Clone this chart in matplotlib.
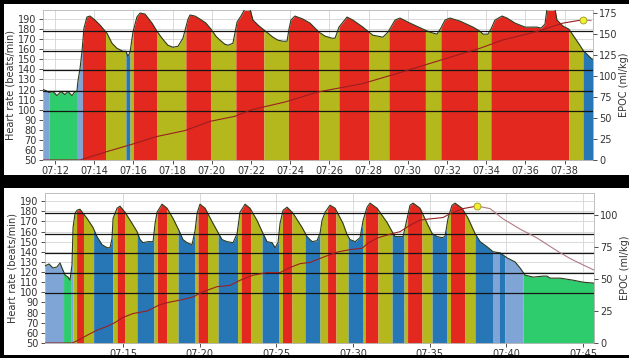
import numpy as np
import matplotlib
matplotlib.use("Agg")
import matplotlib.pyplot as plt
from matplotlib.patches import Rectangle

# ---------------- data (times in minutes after 07:00) ----------------
top_t = [11.39, 11.54, 11.69, 11.90, 12.10, 12.31, 12.51, 12.66, 12.87, 13.02, 13.12, 13.17, 13.28,
         13.38, 13.48, 13.63, 13.79, 14.04, 14.30, 14.65, 14.91, 15.16, 15.47, 15.62, 15.72, 15.83,
         15.98, 16.18, 16.34, 16.59, 16.95, 17.20, 17.46, 17.76, 18.02, 18.28, 18.53, 18.68, 18.79,
         18.89, 19.14, 19.40, 19.70, 19.96, 20.21, 20.42, 20.67, 20.83, 21.08, 21.18, 21.29, 21.49,
         21.69, 21.95, 22.10, 22.36, 22.61, 22.87, 23.12, 23.38, 23.63, 23.84, 23.94, 24.04, 24.24,
         24.65, 25.01, 25.47, 25.78, 26.13, 26.29, 26.49, 26.90, 27.20, 27.71, 28.02, 28.22, 28.73,
         28.99, 29.35, 29.60, 30.11, 30.78, 31.13, 31.49, 31.69, 31.90, 32.15, 32.66, 33.33, 33.68,
         33.84, 34.09, 34.24, 34.45, 34.81, 35.06, 35.47, 35.98, 36.59, 36.80, 37.00, 37.10, 37.51,
         37.61, 37.92, 38.22, 38.43, 38.78, 38.94, 39.35, 39.45]
top_hr = [120, 119, 117, 118, 114, 118, 115, 118, 114, 118, 118, 128, 141,
          158, 181, 192, 193, 189, 184, 176, 166, 161, 158, 158, 153, 157,
          177, 192, 196, 195, 186, 178, 171, 164, 162, 163, 171, 182, 190,
          194, 193, 190, 186, 180, 173, 169, 165, 164, 166, 176, 187, 193,
          200, 200, 189, 184, 180, 176, 172, 169, 168, 168, 180, 189, 193,
          190, 186, 177, 173, 171, 171, 182, 192, 189, 182, 177, 174, 172,
          177, 189, 191, 186, 180, 177, 175, 181, 189, 191, 188, 182, 178,
          175, 175, 180, 189, 193, 191, 186, 182, 182, 181, 185, 200, 200,
          189, 183, 180, 174, 164, 159, 151, 150]
top_bounds = [11.39, 11.69, 13.10, 13.40, 14.58, 15.62, 15.83, 16.00, 17.18, 18.68, 19.96, 21.23,
              22.66, 23.91, 25.47, 26.49, 28.02, 29.04, 30.90, 31.69, 33.56, 34.24, 38.22, 38.94, 39.45]
top_zones = ["lb", "g", "lb", "r", "y", "b", "y", "r", "y", "r", "y", "r",
             "y", "r", "y", "r", "y", "r", "y", "r", "y", "r", "y", "b"]
top_epoc_t = [11.39, 13.28, 14.65, 15.83, 17.20, 18.63, 19.91, 21.18, 22.05, 23.73, 25.42, 27.71,
              29.45, 31.13, 32.82, 33.68, 34.86, 36.59, 37.92, 38.94, 39.35]
top_epoc = [0, 0, 10, 18, 28, 35, 46, 52, 60, 69, 81, 91, 103, 115, 127, 133, 143, 153, 163, 167, 166]
top_ticks = [12, 14, 16, 18, 20, 22, 24, 26, 28, 30, 32, 34, 36, 38]
top_labels = ["07:12", "07:14", "07:16", "07:18", "07:20", "07:22", "07:24", "07:26", "07:28",
              "07:30", "07:32", "07:34", "07:36", "07:38"]
top_epoc_ticks = [0, 25, 50, 75, 100, 125, 150, 175]

bot_t = [9.91, 10.17, 10.43, 10.69, 10.89, 11.02, 11.22, 11.41, 11.54, 11.67, 11.74, 11.87, 12.00,
         12.19, 12.39, 12.65, 13.04, 13.30, 13.63, 13.96, 14.15, 14.28, 14.35, 14.61, 14.80, 15.13,
         15.59, 15.91, 16.11, 16.30, 16.63, 16.96, 17.09, 17.22, 17.54, 17.87, 18.26, 18.65, 18.91,
         19.17, 19.50, 19.70, 19.83, 20.02, 20.35, 20.87, 21.20, 21.46, 21.78, 22.18, 22.44, 22.63,
         22.96, 23.28, 23.74, 24.07, 24.39, 24.72, 24.92, 25.11, 25.24, 25.44, 25.70, 26.09, 26.68,
         27.00, 27.33, 27.65, 27.85, 27.98, 28.18, 28.50, 28.83, 29.35, 29.61, 29.81, 30.14, 30.46,
         30.66, 30.92, 31.11, 31.57, 32.22, 32.55, 32.74, 33.27, 33.53, 33.72, 33.92, 34.37, 34.90,
         35.16, 35.48, 35.81, 36.00, 36.20, 36.46, 36.66, 37.11, 37.51, 37.96, 38.29, 38.74, 39.14,
         39.59, 40.05, 40.57, 40.90, 41.22, 41.75, 42.40, 42.66, 42.85, 43.51, 44.35, 45.01, 45.72]
bot_hr = [126, 128, 124, 125, 129, 124, 117, 115, 112, 127, 164, 178, 181,
          182, 178, 173, 164, 155, 147, 144, 144, 153, 173, 183, 185, 179,
          168, 160, 152, 149, 150, 150, 168, 179, 187, 183, 173, 161, 152,
          149, 147, 161, 178, 187, 183, 168, 159, 152, 150, 149, 158, 179,
          187, 183, 171, 160, 150, 149, 144, 149, 168, 181, 184, 178, 164,
          155, 150, 151, 158, 171, 179, 186, 183, 168, 157, 152, 150, 154,
          171, 184, 188, 183, 169, 160, 155, 155, 173, 186, 188, 183, 166,
          158, 155, 154, 155, 173, 186, 188, 183, 173, 158, 150, 145, 140,
          139, 134, 130, 124, 117, 115, 116, 116, 114, 114, 112, 110, 109]
bot_bounds = [9.91, 11.12, 11.58, 11.74, 11.97, 12.42, 13.08, 14.32, 14.61, 15.13, 15.91, 17.02,
              17.25, 17.84, 18.59, 19.70, 19.89, 20.51, 21.20, 22.47, 22.70, 23.32, 24.07, 25.18,
              25.40, 26.02, 26.87, 27.85, 28.34, 28.89, 29.68, 30.66, 30.79, 31.63, 32.55, 33.33,
              33.56, 34.50, 35.16, 36.10, 36.36, 37.28, 37.96, 39.14, 39.53, 39.89, 41.09, 45.72]
bot_zones = ["lb", "g", "lb", "y", "r", "y", "b", "y", "r", "y", "b",
             "y", "r", "y", "b", "y", "r", "y", "b", "y", "r", "y", "b",
             "y", "r", "y", "b", "y", "r", "y", "b", "y", "r", "y", "b",
             "y", "r", "y", "b", "y", "r", "y", "b", "lb", "b", "lb", "g"]
bot_epoc_t = [9.91, 11.67, 12.06, 12.65, 13.30, 13.96, 14.48, 15.00, 15.65, 16.57, 17.41, 18.07,
              18.91, 19.57, 20.22, 21.13, 21.98, 22.63, 23.48, 24.39, 25.24, 25.89, 26.55, 27.20,
              28.05, 28.96, 29.81, 30.59, 30.98, 31.57, 32.42, 33.07, 33.72, 34.37, 35.03, 35.87,
              36.33, 37.18, 38.09, 38.94, 39.79, 40.90, 42.01, 43.31, 44.16, 45.01, 45.72]
bot_epoc = [0, 0, 2, 6, 10, 13, 16, 20, 23, 25, 30, 32,
            34, 36, 40, 44, 45, 49, 53, 55, 55, 59, 62, 63,
            67, 71, 73, 74, 78, 82, 85, 87, 92, 96, 97, 98,
            101, 105, 107, 105, 97, 89, 82, 72, 66, 61, 57]
bot_ticks = [15, 20, 25, 30, 35, 40, 45]
bot_labels = ["07:15", "07:20", "07:25", "07:30", "07:35", "07:40", "07:45"]
bot_epoc_ticks = [0, 25, 50, 75, 100]

hr_ticks = list(range(50, 200, 10))
zone_lines = [99, 119, 139, 158, 178]

colors = {"r": "#e2281f", "y": "#b5b81c", "b": "#2777b6", "lb": "#7fa5d6", "g": "#2ecc6c"}

W, H = 629, 358
fig = plt.figure(figsize=(W / 100, H / 100), dpi=100, facecolor="white")


def panel(rect, t, hr, bounds, zones, et, ev, xlim, ylim, y2lim, ticks, labels, eticks):
    x0, y0, x1, y1 = rect
    ax = fig.add_axes([x0 / W, 1 - y1 / H, (x1 - x0) / W, (y1 - y0) / H])
    t = np.asarray(t, float)
    hr = np.asarray(hr, float)
    for a, b, z in zip(bounds[:-1], bounds[1:], zones):
        m = (t > a) & (t < b)
        xs = np.concatenate([[a], t[m], [b]])
        ys = np.interp(xs, t, hr)
        ax.fill_between(xs, 50, ys, color=colors[z], lw=0, zorder=2)
    ax.plot(t, hr, color="#2d3a1e", lw=0.8, zorder=3)
    for z in zone_lines:
        ax.axhline(z, color="#151515", lw=0.9, zorder=4)
    ax.set_xlim(*xlim)
    ax.set_ylim(*ylim)
    ax.set_yticks(hr_ticks)
    ax.set_xticks(ticks)
    ax.set_xticklabels(labels)
    ax.grid(True, color="#d4d4d4", lw=0.6, zorder=0)
    ax.set_axisbelow(True)
    ax.tick_params(labelsize=7, colors="#333333", length=3, pad=1.5, width=0.6)
    ax.set_ylabel("Heart rate (beats/min)", fontsize=7, color="#333333", labelpad=2)
    for s in ax.spines.values():
        s.set_color("#b5b5b5")
        s.set_linewidth(0.6)
    ax2 = ax.twinx()
    ax2.set_ylim(*y2lim)
    ax2.set_yticks(eticks)
    ax2.tick_params(labelsize=7, colors="#333333", length=3, pad=1.5, width=0.6)
    ax2.set_ylabel("EPOC (ml/kg)", fontsize=7, color="#333333", labelpad=1)
    for s in ax2.spines.values():
        s.set_visible(False)
    et = np.asarray(et, float)
    ev = np.asarray(ev, float)
    k = int(np.argmax(ev))
    ax2.plot(et[:k + 1], ev[:k + 1], color="#9a1f22", lw=0.8, zorder=5)
    ax2.plot(et[k:], ev[k:], color="#b07a86", lw=0.8, zorder=5)
    ax2.plot([et[k]], [ev[k]], "o", ms=5, mfc="#f2ee30", mec="#9a9a20", mew=0.6, zorder=6)
    return ax, ax2


panel((43, 10, 593, 160), top_t, top_hr, top_bounds, top_zones, top_epoc_t, top_epoc,
      (11.39, 39.45), (50, 199), (0, 178.6), top_ticks, top_labels, top_epoc_ticks)
panel((45, 193, 594, 343), bot_t, bot_hr, bot_bounds, bot_zones, bot_epoc_t, bot_epoc,
      (9.91, 45.72), (50, 198), (0, 117.2), bot_ticks, bot_labels, bot_epoc_ticks)


def band(x0, y0, x1, y1):
    fig.add_artist(Rectangle((x0 / W, 1 - y1 / H), (x1 - x0) / W, (y1 - y0) / H,
                             transform=fig.transFigure, facecolor="black", edgecolor="none",
                             zorder=20))


band(0, 0, W, 4)
band(0, 0, 4, H)
band(0, 175, W, 188)
band(0, 355, W, H)

fig.savefig("out.png", dpi=100, facecolor="white")
